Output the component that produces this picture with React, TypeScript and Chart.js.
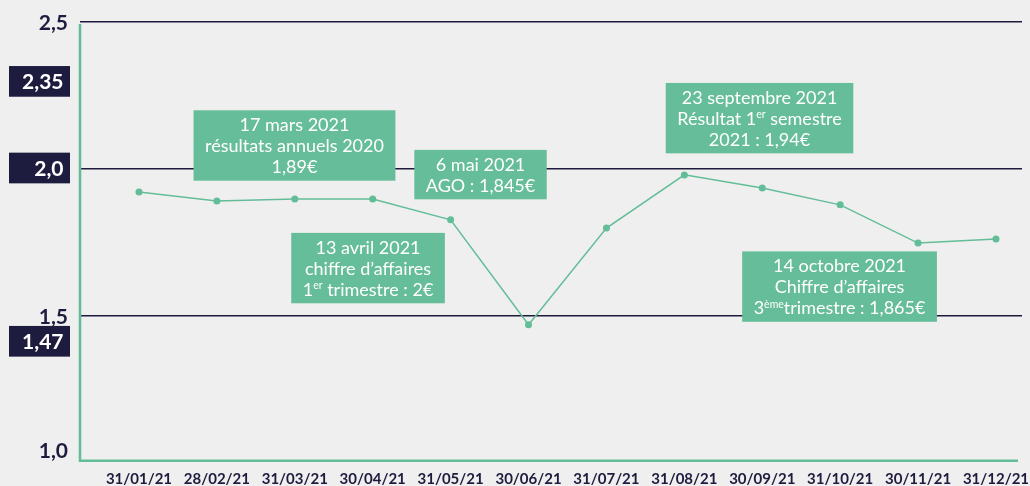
import { useEffect, useRef } from "react";
import { Chart, registerables } from "chart.js";

Chart.register(...registerables);

// ---- data ----
const dates = [
  "31/01/21", "28/02/21", "31/03/21", "30/04/21", "31/05/21", "30/06/21",
  "31/07/21", "31/08/21", "30/09/21", "31/10/21", "30/11/21", "31/12/21",
];
const prices = [1.922, 1.891, 1.898, 1.898, 1.827, 1.47, 1.799, 1.98, 1.935, 1.878, 1.748, 1.762];

const yTickValues = [1.0, 1.5, 2.0, 2.5];
const yTickLabels = ["1,0", "1,5", "2,0", "2,5"];
const boxedTickValues = [2.0];

const markerLabels = ["2,35", "1,47"];
const markerValues = [2.298, 1.414];

const eventTexts = [
  ["17 mars 2021", "résultats annuels 2020", "1,89€"],
  ["6 mai 2021", "AGO : 1,845€"],
  ["13 avril 2021", "chiffre d’affaires", "1^er^ trimestre : 2€"],
  ["23 septembre 2021", "Résultat 1^er^ semestre", "2021 : 1,94€"],
  ["14 octobre 2021", "Chiffre d’affaires", "3^ème^trimestre : 1,865€"],
];
const eventX = [1.996, 4.384, 2.94, 7.965, 8.992];
const eventY = [2.08, 1.981, 1.663, 2.173, 1.6];

// ---- style ----
const NAVY = "#1e1c3e";
const GREEN = "#63bd98";
const BOX_GREEN = "#66bd99";
const BG = "#efefef";
const FONT = "Lato, 'Open Sans', sans-serif";

const EVT_SIZE = 18;
const SUP_SIZE = 10.5;
const LINE_H = 21;
const PAD_X = 11.5;
const PAD_Y = 3.7;

function parseLine(s: string) {
  return s.split("^").map((t, i) => ({ t, sup: i % 2 === 1 })).filter((s) => s.t.length > 0);
}

const overlayPlugin = {
  id: "overlay",
  beforeDraw(chart: any) {
    const { ctx, width, height } = chart;
    ctx.save();
    ctx.fillStyle = BG;
    ctx.fillRect(0, 0, width, height);
    ctx.restore();
  },
  afterDraw(chart: any) {
    const { ctx, chartArea } = chart;
    const x = chart.scales.x;
    const y = chart.scales.y;
    ctx.save();

    // green axes
    ctx.strokeStyle = GREEN;
    ctx.lineWidth = 2.6;
    ctx.lineCap = "butt";
    ctx.beginPath();
    ctx.moveTo(chartArea.left, chartArea.top + 2);
    ctx.lineTo(chartArea.left, chartArea.bottom - 2.3);
    ctx.lineTo(chartArea.right - 4, chartArea.bottom - 2.3);
    ctx.stroke();

    // y labels
    const labelSize = 21;
    ctx.font = `bold ${labelSize}px ${FONT}`;
    ctx.textAlign = "right";
    ctx.textBaseline = "alphabetic";
    const boxRight = chartArea.left - 10;
    const boxW = 61;
    const boxH = 30.7;
    const drawBoxed = (label: string, cy: number) => {
      ctx.fillStyle = NAVY;
      ctx.fillRect(boxRight - boxW, cy - boxH / 2, boxW, boxH);
      ctx.fillStyle = "#ffffff";
      ctx.fillText(label, boxRight - 6.5, cy + 0.36 * labelSize);
    };
    yTickValues.forEach((v, i) => {
      const py = Math.min(y.getPixelForValue(v), chartArea.bottom - 13);
      if (boxedTickValues.includes(v)) {
        drawBoxed(yTickLabels[i], py - 1);
      } else {
        ctx.fillStyle = NAVY;
        ctx.fillText(yTickLabels[i], boxRight - 2, py + 0.36 * labelSize);
      }
    });
    markerValues.forEach((v, i) => drawBoxed(markerLabels[i], y.getPixelForValue(v)));

    // event boxes
    eventTexts.forEach((lines, k) => {
      const parsed = lines.map(parseLine);
      const widths = parsed.map((segs) =>
        segs.reduce((w, s) => {
          ctx.font = `${s.sup ? SUP_SIZE : EVT_SIZE}px ${FONT}`;
          return w + ctx.measureText(s.t).width;
        }, 0)
      );
      const maxW = Math.max(...widths);
      const bw = maxW + PAD_X * 2;
      const bh = parsed.length * LINE_H + PAD_Y * 2;
      const cx = x.getPixelForValue(eventX[k]);
      const cy = y.getPixelForValue(eventY[k]);
      const left = cx - bw / 2;
      const top = cy - bh / 2;
      ctx.fillStyle = BOX_GREEN;
      ctx.fillRect(left, top, bw, bh);
      ctx.fillStyle = "#ffffff";
      ctx.textAlign = "left";
      parsed.forEach((segs, li) => {
        let px = cx - widths[li] / 2;
        const base = top + PAD_Y + li * LINE_H + 17;
        segs.forEach((s) => {
          ctx.font = `${s.sup ? SUP_SIZE : EVT_SIZE}px ${FONT}`;
          ctx.fillText(s.t, px, s.sup ? base - 6.5 : base);
          px += ctx.measureText(s.t).width;
        });
      });
    });

    ctx.restore();
  },
};

export default function App() {
  const ref = useRef<HTMLCanvasElement | null>(null);

  useEffect(() => {
    document.body.style.margin = "0";
    document.body.style.background = BG;
    const canvas = ref.current;
    if (!canvas) return;
    const chart = new Chart(canvas, {
      type: "line",
      data: {
        datasets: [
          {
            data: prices.map((v, i) => ({ x: i, y: v })),
            borderColor: GREEN,
            backgroundColor: GREEN,
            borderWidth: 1.5,
            pointRadius: 3.5,
            pointBorderWidth: 0,
            pointBackgroundColor: GREEN,
            tension: 0,
          },
        ],
      },
      options: {
        animation: false,
        responsive: false,
        devicePixelRatio: 1,
        layout: { padding: { top: 22, right: 8, bottom: 0, left: 0 } },
        plugins: { legend: { display: false }, tooltip: { enabled: false } },
        scales: {
          x: {
            type: "linear",
            min: -0.757,
            max: 11.334,
            afterBuildTicks: (axis: any) => {
              axis.ticks = dates.map((_, i) => ({ value: i }));
            },
            afterFit: (s: any) => {
              s.height = 23;
              s.paddingLeft = 0;
              s.paddingRight = 0;
            },
            grid: { display: false, drawTicks: false },
            border: { display: false },
            ticks: {
              autoSkip: false,
              maxRotation: 0,
              padding: 7,
              color: NAVY,
              font: { family: FONT, size: 15, weight: "bold" },
              callback: (v: any) => dates[v] ?? "",
            },
          },
          y: {
            type: "linear",
            min: 1.0,
            max: 2.5,
            afterBuildTicks: (axis: any) => {
              axis.ticks = yTickValues.map((v) => ({ value: v }));
            },
            afterFit: (s: any) => {
              s.width = 80;
              s.paddingTop = 0;
              s.paddingBottom = 0;
            },
            grid: {
              drawTicks: false,
              lineWidth: 1.5,
              color: (c: any) => (c.tick && c.tick.value === 1 ? "rgba(0,0,0,0)" : NAVY),
            },
            border: { display: false },
            ticks: { display: false },
          },
        },
      },
      plugins: [overlayPlugin],
    });
    return () => chart.destroy();
  }, []);

  return (
    <div style={{ width: 1030, height: 486, background: BG }}>
      <canvas ref={ref} width={1030} height={486} style={{ display: "block" }} />
    </div>
  );
}
